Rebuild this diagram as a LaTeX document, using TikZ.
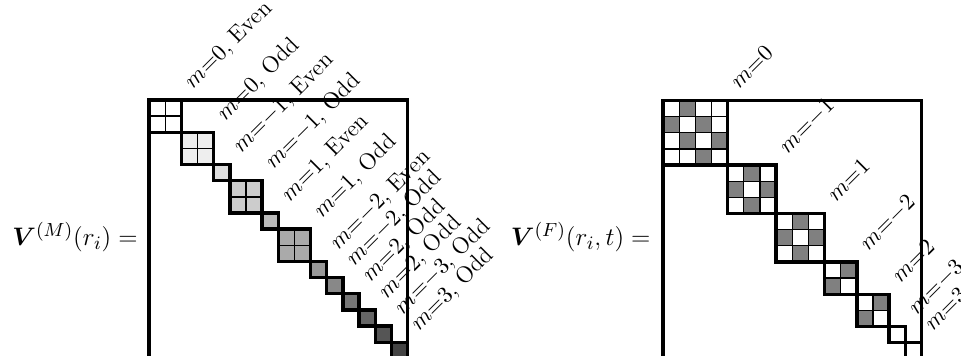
\documentclass[tikz,border=0pt]{standalone}
\usepackage{amsmath}
\usepackage{amssymb}
\usepackage{bm}
\usetikzlibrary{positioning, calc}

\begin{document}
\begin{tikzpicture}[
    x=0.2692cm, y=-0.2692cm,
    every node/.style={font=\fontsize{12.7}{15}\selectfont},
    frame/.style={draw, line width=1.6pt},
    blk/.style={draw, line width=1.6pt},
    cell/.style={draw, semithick},
    lbl/.style={rotate=45, anchor=base west, inner sep=0pt,
                font=\fontsize{11}{13}\selectfont}
  ]
\useasboundingbox (0,0) rectangle (59.5,22.04);

% left matrix, one grey level per block
\begin{scope}[shift={(9.23,6.19)}]
  \foreach \s/\n/\txt [count=\i from 0, evaluate=\i as \g using \i*100/15] in
    {0/2/{$m{=}0$, Even}, 2/2/{$m{=}0$, Odd}, 4/1/{$m{=}{-1}$, Even},
     5/2/{$m{=}{-1}$, Odd}, 7/1/{$m{=}1$, Even}, 8/2/{$m{=}1$, Odd},
     10/1/{$m{=}{-2}$, Even}, 11/1/{$m{=}{-2}$, Odd}, 12/1/{$m{=}2$, Odd},
     13/1/{$m{=}2$, Odd}, 14/1/{$m{=}{-3}$, Odd}, 15/1/{$m{=}3$, Odd}}
  {
    \fill[black!\g] (\s,\s) rectangle ++(\n,\n);
    \ifnum\n=2
      \draw[semithick] (\s+1,\s) -- ++(0,2) (\s,\s+1) -- ++(2,0);
    \fi
    \draw[blk] (\s,\s) rectangle ++(\n,\n);
    \node[lbl] (lM\i) at ($(\s+\n,\s)+(0.7,-0.65)$) {\txt};
  }
  \draw[frame] (0,0) rectangle (16,16);
\end{scope}

% right matrix, off-diagonal cells shaded
\begin{scope}[shift={(41.05,6.22)}]
  \foreach \s/\n/\txt [count=\i] in
    {0/4/{$m{=}0$}, 4/3/{$m{=}{-1}$}, 7/3/{$m{=}1$}, 10/2/{$m{=}{-2}$},
     12/2/{$m{=}2$}, 14/1/{$m{=}{-3}$}, 15/1/{$m{=}3$}}
  {
    \foreach \r in {1,...,\n}
      \foreach \c in {1,...,\n} {
        \pgfmathtruncatemacro\d{abs(\r-\c)}
        \ifnum\d=1
          \draw[cell, fill=black!50] (\s+\c-1,\s+\r-1) rectangle ++(1,1);
        \else
          \draw[cell] (\s+\c-1,\s+\r-1) rectangle ++(1,1);
        \fi
      }
    \draw[blk] (\s,\s) rectangle ++(\n,\n);
    \node[lbl] (lF\i) at ($(\s+\n,\s)+(0.7,-0.65)$) {\txt};
  }
  \draw[frame] (0,0) rectangle (16,16);
\end{scope}

\node[anchor=east, inner sep=0pt] (eqM) at (8.55,14.67) {$\bm{V}^{(M)}(r_i) =$};
\node[anchor=east, inner sep=0pt] (eqF) at (40.3,14.67) {$\bm{V}^{(F)}(r_i,t) =$};
\end{tikzpicture}
\end{document}
